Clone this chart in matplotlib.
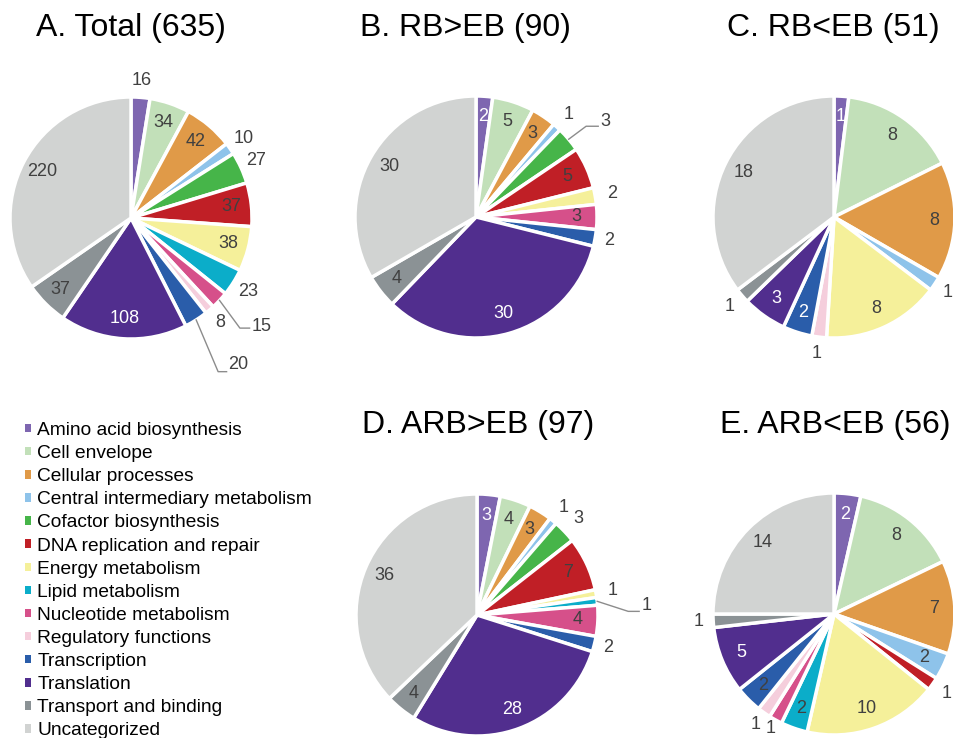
"""
Functional category breakdown of differentially expressed genes (five pies).
"""

import matplotlib
matplotlib.use("Agg")
import matplotlib.pyplot as plt
import numpy as np
from matplotlib.patches import Patch

plt.rcParams["font.family"] = ["Liberation Sans", "DejaVu Sans"]

# Data
categories = [
    "Amino acid biosynthesis",
    "Cell envelope",
    "Cellular processes",
    "Central intermediary metabolism",
    "Cofactor biosynthesis",
    "DNA replication and repair",
    "Energy metabolism",
    "Lipid metabolism",
    "Nucleotide metabolism",
    "Regulatory functions",
    "Transcription",
    "Translation",
    "Transport and binding",
    "Uncategorized",
]
colors = [
    "#7e66b0", "#c2e0b9", "#e09a48", "#8ec3ea", "#46b549", "#c01f26", "#f5f09a",
    "#0badc9", "#d6508a", "#f5cedc", "#2a5daa", "#512e8e", "#8b9295", "#d1d3d2",
]

titles = ["A. Total (635)", "B. RB>EB (90)", "C. RB<EB (51)",
          "D. ARB>EB (97)", "E. ARB<EB (56)"]

total_counts = [16, 34, 42, 10, 27, 37, 38, 23, 15, 8, 20, 108, 37, 220]
rb_up_counts = [2, 5, 3, 1, 3, 5, 2, 0, 3, 0, 2, 30, 4, 30]
rb_down_counts = [1, 8, 8, 1, 0, 0, 8, 0, 0, 1, 2, 3, 1, 18]
arb_up_counts = [3, 4, 3, 1, 3, 7, 1, 1, 4, 0, 2, 28, 4, 36]
arb_down_counts = [2, 8, 7, 2, 0, 1, 10, 2, 1, 1, 2, 5, 1, 14]

all_counts = [total_counts, rb_up_counts, rb_down_counts, arb_up_counts, arb_down_counts]

# Layout (pixels) ---------------------------------------------------------
W, H = 954, 738
R = 121
centers = [(131, 218), (476, 217), (834, 217), (477, 615), (834, 614)]
title_pos = [(131, 28), (465, 28), (833, 28), (478, 425), (835, 425)]

# label placement: indices drawn outside the pie (index -> radius factor)
outside = [
    {0: 1.14, 3: 1.14, 4: 1.14, 7: 1.14, 9: 1.14},
    {3: 1.14, 6: 1.14, 10: 1.12},
    {3: 1.13, 9: 1.14, 12: 1.14},
    {3: 1.14, 4: 1.16, 6: 1.14, 10: 1.12},
    {5: 1.14, 8: 1.08, 9: 1.12, 12: 1.12},
]
# labels with leader lines: index -> (elbow, line end, text anchor) in radius units
leaders = [
    {8: ((0.90, -0.91), (0.98, -0.91), (1.00, -0.90)),
     10: ((0.72, -1.27), (0.79, -1.27), (0.80, -1.21))},
    {4: ((0.91, 0.75), (1.01, 0.75), (1.03, 0.79))},
    {},
    {7: ((1.25, 0.03), (1.34, 0.03), (1.36, 0.08))},
    {},
]
white_labels = [{11}, {0, 11}, {0, 10, 11}, {0, 11}, {0, 11}]

DARK = "#404040"
LABEL_SIZE = 13

fig = plt.figure(figsize=(W / 100, H / 100), dpi=100)

for i, counts in enumerate(all_counts):
    cx, cy = centers[i]
    ax = fig.add_axes([(cx - R) / W, 1 - (cy + R) / H, 2 * R / W, 2 * R / H])
    idx = [k for k, v in enumerate(counts) if v > 0]
    vals = [counts[k] for k in idx]
    wedges, _ = ax.pie(
        vals,
        colors=[colors[k] for k in idx],
        startangle=90,
        counterclock=False,
        radius=1,
        wedgeprops=dict(edgecolor="white", linewidth=2.5),
    )
    ax.set_xlim(-1, 1)
    ax.set_ylim(-1, 1)
    ax.set_aspect("equal")
    ax.axis("off")

    for w, k, v in zip(wedges, idx, vals):
        ang = np.deg2rad((w.theta1 + w.theta2) / 2)
        ca, sa = np.cos(ang), np.sin(ang)
        color = "white" if k in white_labels[i] else DARK
        if k in leaders[i]:
            elbow, end, txt = leaders[i][k]
            ax.plot([ca, elbow[0], end[0]], [sa, elbow[1], end[1]],
                    color="#8c8c8c", lw=1, clip_on=False)
            ax.text(txt[0], txt[1], str(v), ha="left", va="center",
                    fontsize=LABEL_SIZE, color=DARK, clip_on=False)
        elif k in outside[i]:
            f = outside[i][k]
            ax.text(f * ca, f * sa, str(v), ha="center", va="center",
                    fontsize=LABEL_SIZE, color=DARK, clip_on=False)
        else:
            ax.text(0.83 * ca, 0.83 * sa, str(v), ha="center", va="center",
                    fontsize=LABEL_SIZE, color=color, clip_on=False)

    tx, ty = title_pos[i]
    fig.text(tx / W, 1 - ty / H, titles[i], ha="center", va="center",
             fontsize=23, color="black")

# Legend
handles = [Patch(facecolor=c, edgecolor="none") for c in colors]
fig.legend(
    handles, categories,
    loc="upper left",
    bbox_to_anchor=(25 / W, 1 - 422 / H),
    frameon=False,
    fontsize=13.75,
    handlelength=0.3,
    handleheight=0.3,
    handletextpad=0.35,
    labelspacing=0.32,
    borderaxespad=0,
    borderpad=0,
)

fig.savefig("out.png", dpi=100)
plt.close(fig)
